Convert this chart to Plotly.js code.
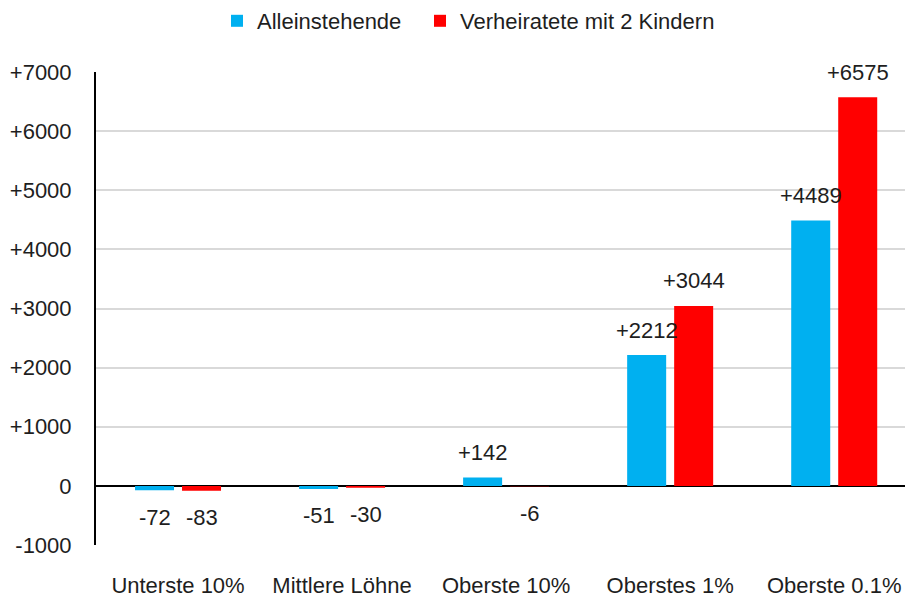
<!DOCTYPE html>
<html>
<head>
<meta charset="utf-8">
<script src="https://cdn.plot.ly/plotly-3.0.1.min.js"></script>
<style>
  html, body { margin: 0; padding: 0; background: #ffffff; }
  #chart { width: 905px; height: 599px; }
</style>
</head>
<body>
<div id="chart"></div>
<script>
// ---- data ----
var categories = ['Unterste 10%', 'Mittlere Löhne', 'Oberste 10%', 'Oberstes 1%', 'Oberste 0.1%'];
var seriesNames = ['Alleinstehende', 'Verheiratete mit 2 Kindern'];
var alleinstehende = [-72, -51, 142, 2212, 4489];
var verheiratete = [-83, -30, -6, 3044, 6575];
var tickValues = [-1000, 0, 1000, 2000, 3000, 4000, 5000, 6000, 7000];
var tickLabels = ['-1000', '0', '+1000', '+2000', '+3000', '+4000', '+5000', '+6000', '+7000'];

// ---- styling ----
var FONT = '"Liberation Sans", Arial, Helvetica, sans-serif';
var FS = 22;
var TEXT_COLOR = '#1e1e1e';
var colors = ['#00B0F0', '#FF0000'];
var legendIds = ['legend', 'legend2'];
var legendX = [217, 420];
var seriesValues = [alleinstehende, verheiratete];

var traces = seriesValues.map(function (vals, s) {
  return {
    type: 'bar',
    name: seriesNames[s],
    x: categories,
    y: vals,
    legend: legendIds[s],
    marker: { color: colors[s], line: { width: 0 } },
    hoverinfo: 'x+y'
  };
});

function fmt(v) { return v > 0 ? '+' + v : String(v); }

var bargap = 0.427, bargroupgap = 0.17;
var slot = (1 - bargap) / seriesValues.length;
var annotations = [];
seriesValues.forEach(function (vals, s) {
  var off = (s - (seriesValues.length - 1) / 2) * slot;
  vals.forEach(function (v, i) {
    annotations.push({
      x: i + off, y: v, xref: 'x', yref: 'y',
      text: fmt(v), showarrow: false,
      yshift: v >= 0 ? 25 : -27,
      font: { family: FONT, size: FS, color: TEXT_COLOR }
    });
  });
});

function legendCfg(px) {
  return {
    orientation: 'h',
    xref: 'container', yref: 'container',
    x: px / 905, xanchor: 'left',
    y: 1 - 21 / 599, yanchor: 'middle',
    font: { family: FONT, size: FS, color: TEXT_COLOR },
    itemwidth: 30,
    bgcolor: 'rgba(0,0,0,0)',
    borderwidth: 0
  };
}

var layout = {
  width: 905, height: 599,
  margin: { l: 96, r: 0, t: 72, b: 54, pad: 0 },
  paper_bgcolor: '#ffffff', plot_bgcolor: '#ffffff',
  font: { family: FONT, size: FS, color: TEXT_COLOR },
  barmode: 'group',
  bargap: bargap,
  bargroupgap: bargroupgap,
  showlegend: true,
  legend: legendCfg(legendX[0]),
  legend2: legendCfg(legendX[1]),
  xaxis: {
    type: 'category',
    range: [-0.5, 4.4315],
    showgrid: false,
    showline: false,
    ticks: '',
    ticklabelstandoff: 25,
    tickfont: { family: FONT, size: FS, color: TEXT_COLOR },
    fixedrange: true
  },
  yaxis: {
    range: [-1000, 7000],
    tickmode: 'array',
    tickvals: tickValues,
    ticktext: tickLabels,
    showgrid: true,
    gridcolor: '#d9d9d9',
    gridwidth: 2,
    zeroline: true,
    zerolinecolor: '#000000',
    zerolinewidth: 2,
    showline: true,
    linecolor: '#000000',
    linewidth: 2,
    ticks: '',
    ticklabelstandoff: 18,
    tickfont: { family: FONT, size: FS, color: TEXT_COLOR },
    fixedrange: true
  },
  annotations: annotations
};

Plotly.newPlot('chart', traces, layout, { displayModeBar: false, staticPlot: true });
</script>
</body>
</html>
